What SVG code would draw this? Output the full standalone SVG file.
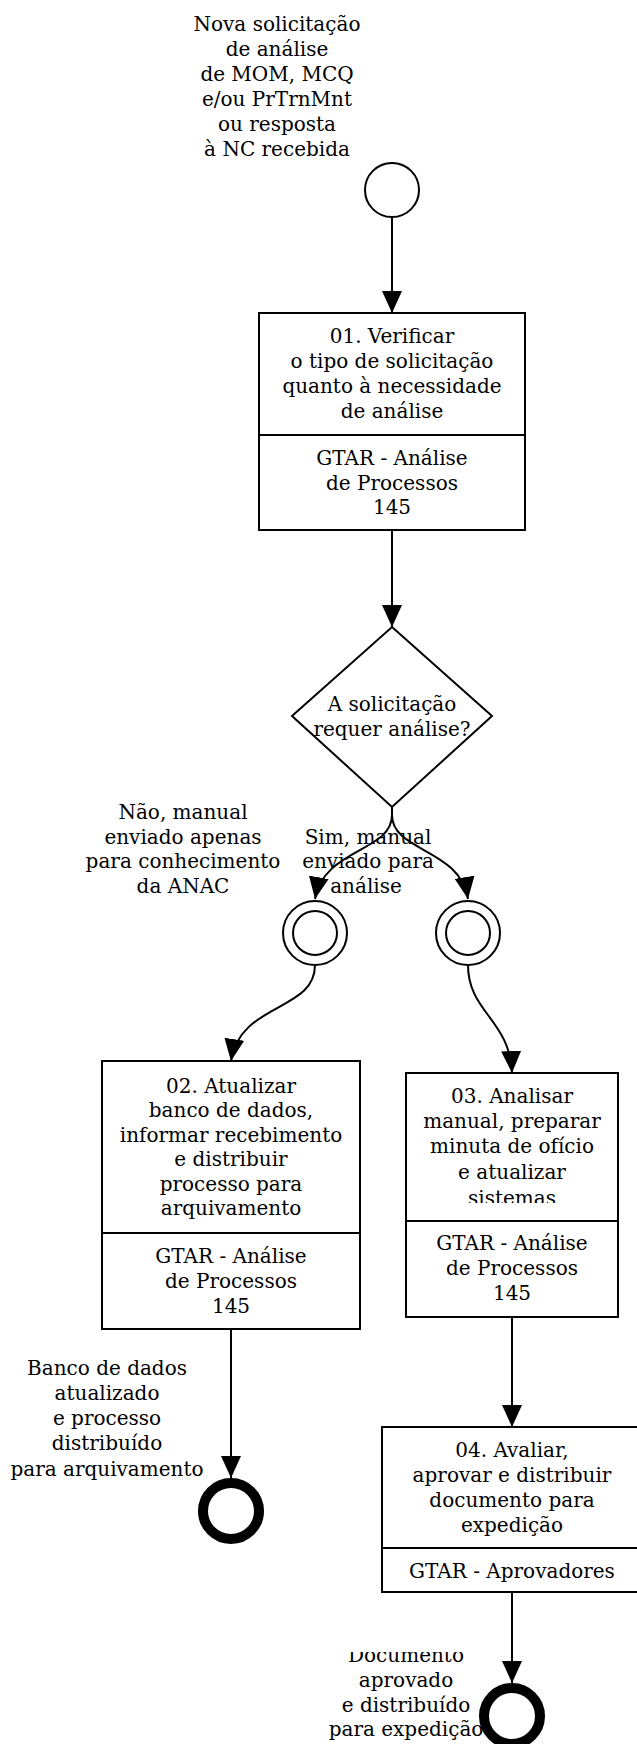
<svg xmlns="http://www.w3.org/2000/svg" width="637" height="1744" viewBox="0 0 637 1744">
<style>
text{font-family:"DejaVu Serif","Liberation Serif",serif;font-size:20px;fill:#000;text-anchor:middle}
.box{fill:#fff;stroke:#000;stroke-width:2}
.div{stroke:#000;stroke-width:2}
.ev{fill:#fff;stroke:#000;stroke-width:2}
.end{fill:#fff;stroke:#000;stroke-width:10}
.edge{fill:none;stroke:#000;stroke-width:2}
</style>
<defs>
<marker id="arr" markerUnits="userSpaceOnUse" markerWidth="22" markerHeight="20" viewBox="0 0 22 20" refX="22" refY="10" orient="auto">
<path d="M0,0 L22,10 L0,20 Z" fill="#000"/>
</marker>
<clipPath id="c03"><rect x="406" y="1073" width="212" height="130"/></clipPath>
<clipPath id="cdoc"><rect x="300" y="1652" width="220" height="92"/></clipPath>
</defs>

<g id="connectors">
<path class="edge" d="M392,218 L392,313" marker-end="url(#arr)"/>
<path class="edge" d="M392,530 L392,627" marker-end="url(#arr)"/>
<path class="edge" d="M392,807 L392,815 C392,852 324,848 315,899" marker-end="url(#arr)"/>
<path class="edge" d="M392,807 L392,815 C392,852 460,848 468,899" marker-end="url(#arr)"/>
<path class="edge" d="M315,965 C315,1012 240,1002 231,1061" marker-end="url(#arr)"/>
<path class="edge" d="M468,965 C468,1012 510,1020 512,1073" marker-end="url(#arr)"/>
<path class="edge" d="M231,1329 L231,1478" marker-end="url(#arr)"/>
<path class="edge" d="M512,1317 L512,1427" marker-end="url(#arr)"/>
<path class="edge" d="M512,1592 L512,1683" marker-end="url(#arr)"/>
</g>

<g id="start">
<circle class="ev" cx="392" cy="190" r="27"/>
<text x="277" y="31">Nova solicitação</text>
<text x="277" y="56">de análise</text>
<text x="277" y="81">de MOM, MCQ</text>
<text x="277" y="106">e/ou PrTrnMnt</text>
<text x="277" y="131">ou resposta</text>
<text x="277" y="156">à NC recebida</text>
</g>

<g id="task01">
<rect class="box" x="259" y="313" width="266" height="217"/>
<line class="div" x1="259" y1="435" x2="525" y2="435"/>
<text x="392" y="343">01. Verificar</text>
<text x="392" y="368">o tipo de solicitação</text>
<text x="392" y="393">quanto à necessidade</text>
<text x="392" y="418">de análise</text>
<text x="392" y="465">GTAR - Análise</text>
<text x="392" y="489.5">de Processos</text>
<text x="392" y="514">145</text>
</g>

<g id="gateway">
<polygon class="ev" points="392,627 492,716 392,807 292,716"/>
<text x="392" y="711">A solicitação</text>
<text x="392" y="736">requer análise?</text>
</g>

<g id="label-nao">
<text x="183" y="819">Não, manual</text>
<text x="183" y="843.5">enviado apenas</text>
<text x="183" y="868">para conhecimento</text>
<text x="183" y="893">da ANAC</text>
</g>

<g id="label-sim">
<text x="368" y="843.5">Sim, manual</text>
<text x="368" y="868">enviado para</text>
<text x="366" y="893">análise</text>
</g>

<g id="inter-left">
<circle class="ev" cx="315" cy="933" r="32"/>
<circle class="ev" cx="315" cy="933" r="22"/>
</g>

<g id="inter-right">
<circle class="ev" cx="468" cy="933" r="32"/>
<circle class="ev" cx="468" cy="933" r="22"/>
</g>

<g id="task02">
<rect class="box" x="102" y="1061" width="258" height="268"/>
<line class="div" x1="102" y1="1233" x2="360" y2="1233"/>
<text x="231" y="1093">02. Atualizar</text>
<text x="231" y="1117.4">banco de dados,</text>
<text x="231" y="1141.8">informar recebimento</text>
<text x="231" y="1166.2">e distribuir</text>
<text x="231" y="1190.6">processo para</text>
<text x="231" y="1215">arquivamento</text>
<text x="231" y="1263">GTAR - Análise</text>
<text x="231" y="1288">de Processos</text>
<text x="231" y="1313">145</text>
</g>

<g id="task03">
<rect class="box" x="406" y="1073" width="212" height="244"/>
<line class="div" x1="406" y1="1221" x2="618" y2="1221"/>
<g clip-path="url(#c03)">
<text x="512" y="1103">03. Analisar</text>
<text x="512" y="1128">manual, preparar</text>
<text x="512" y="1153">minuta de ofício</text>
<text x="512" y="1179">e atualizar</text>
<text x="512" y="1205">sistemas</text>
</g>
<text x="512" y="1250">GTAR - Análise</text>
<text x="512" y="1275">de Processos</text>
<text x="512" y="1300">145</text>
</g>

<g id="end-left">
<circle class="end" cx="231" cy="1511" r="28"/>
<text x="107" y="1375">Banco de dados</text>
<text x="107" y="1400">atualizado</text>
<text x="107" y="1425">e processo</text>
<text x="107" y="1450">distribuído</text>
<text x="107" y="1476">para arquivamento</text>
</g>

<g id="task04">
<rect class="box" x="382" y="1427" width="260" height="165"/>
<line class="div" x1="382" y1="1548" x2="642" y2="1548"/>
<text x="512" y="1457">04. Avaliar,</text>
<text x="512" y="1482">aprovar e distribuir</text>
<text x="512" y="1507">documento para</text>
<text x="512" y="1532">expedição</text>
<text x="512" y="1578">GTAR - Aprovadores</text>
</g>

<g id="end-right">
<circle class="end" cx="512" cy="1716" r="28"/>
<g clip-path="url(#cdoc)">
<text x="406" y="1662">Documento</text>
<text x="406" y="1687">aprovado</text>
<text x="406" y="1712">e distribuído</text>
<text x="406" y="1736">para expedição</text>
</g>
</g>
</svg>
